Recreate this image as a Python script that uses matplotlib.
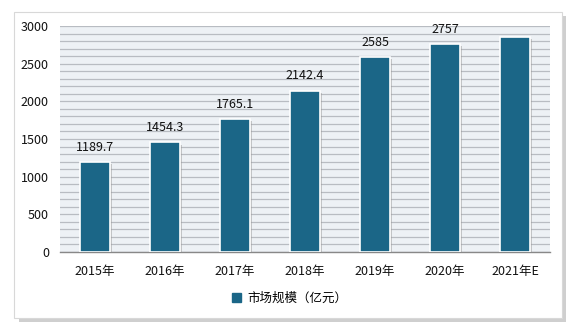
import numpy as np
import matplotlib.pyplot as plt
import matplotlib.patches as mpatches
import matplotlib.patheffects as pe

plt.rcParams['font.family'] = ['Noto Sans CJK SC', 'DejaVu Sans']

# data
years = ['2015年', '2016年', '2017年', '2018年', '2019年', '2020年', '2021年E']
values = [1189.7, 1454.3, 1765.1, 2142.4, 2585, 2757, 2855]
labels = ['1189.7', '1454.3', '1765.1', '2142.4', '2585', '2757', '']
legend_name = '市场规模（亿元）'

bar_color = '#1b6687'

fig = plt.figure(figsize=(5.79, 3.33), dpi=100)

# outer framed panel with shadow
frame = mpatches.Rectangle((0.025, 0.045), 0.945, 0.92,
                           transform=fig.transFigure, facecolor='white',
                           edgecolor='#d8d8d8', linewidth=0.8, zorder=-5,
                           path_effects=[pe.SimplePatchShadow(offset=(3, -3), shadow_rgbFace='#bbbbbb', alpha=0.7),
                                         pe.Normal()])
fig.patches.append(frame)

ax = fig.add_axes([60/579, 1 - 252/333, 490/579, 226/333])
ax.set_facecolor('#edf1f5')

x = np.arange(len(years))
bars = ax.bar(x, values, width=0.43, color=bar_color, edgecolor='white', linewidth=1.2, zorder=3,
              path_effects=[pe.SimplePatchShadow(offset=(1.5, -1.5), shadow_rgbFace='#999999', alpha=0.5),
                            pe.Normal()])

for xi, v, lab in zip(x, values, labels):
    if lab:
        ax.text(xi, v + 110, lab, ha='center', va='bottom', fontsize=9, color='#111111', zorder=4)

ax.set_xlim(-0.5, len(years) - 0.5)
ax.set_ylim(0, 3000)
ax.set_yticks(np.arange(0, 3001, 500))
ax.set_yticks(np.arange(0, 3001, 100), minor=True)
ax.grid(True, which='both', axis='y', color='#b8bcc2', linewidth=0.9, zorder=1)
ax.set_axisbelow(True)

ax.set_xticks(x)
ax.set_xticklabels(years)
ax.tick_params(axis='both', which='both', length=0, labelsize=9, colors='#111111')
ax.tick_params(axis='x', pad=9)
ax.tick_params(axis='y', pad=8)

for s in ['left', 'right', 'top']:
    ax.spines[s].set_visible(False)
ax.spines['bottom'].set_color('#888888')
ax.spines['bottom'].set_linewidth(1)

handle = mpatches.Patch(color=bar_color, label=legend_name)
fig.legend(handles=[handle], loc='center', bbox_to_anchor=(0.5, 1 - 298/333), frameon=False,
           fontsize=9, handlelength=0.7, handleheight=0.7, handletextpad=0.5)

fig.savefig('out.png', dpi=100)
